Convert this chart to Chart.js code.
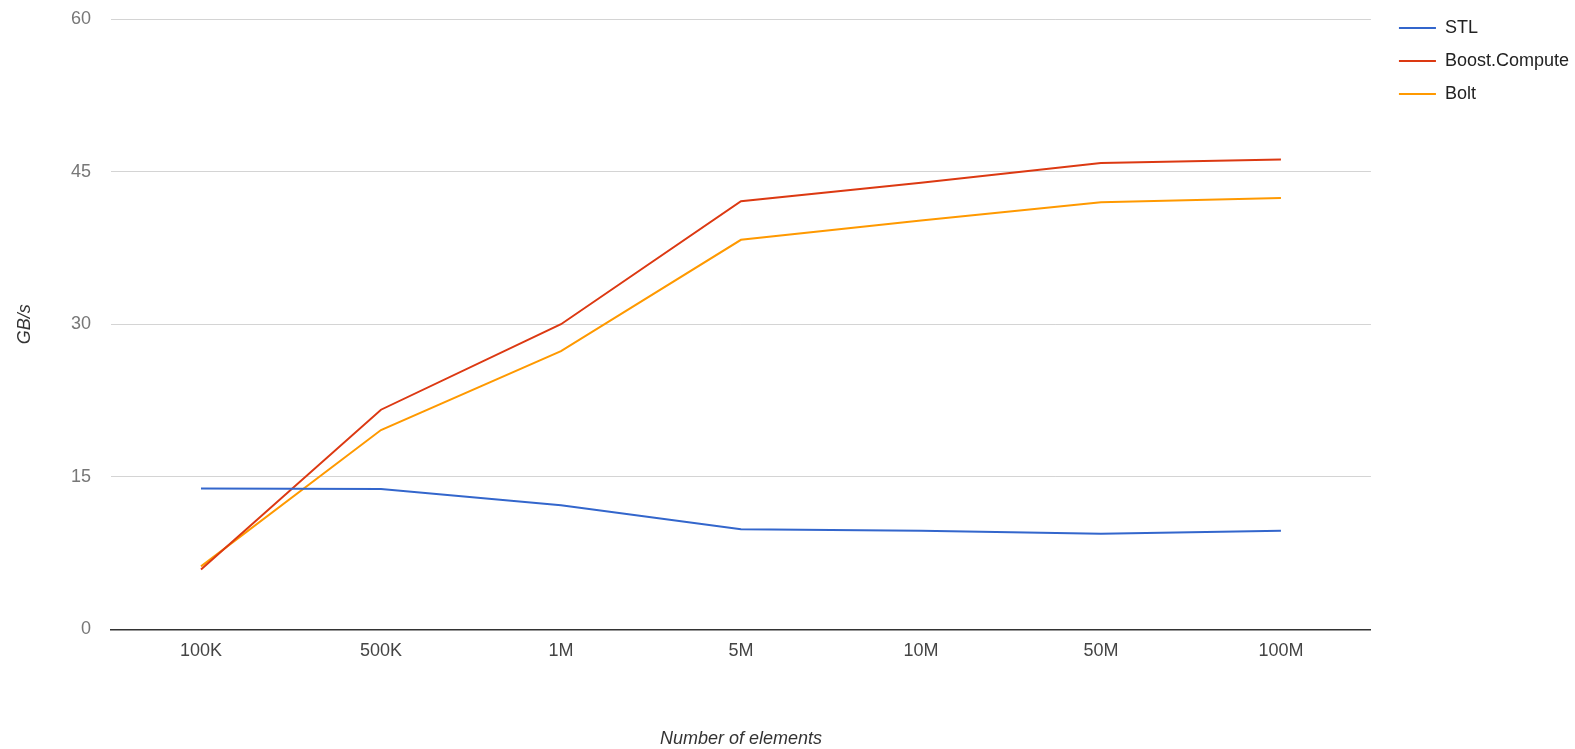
<!DOCTYPE html>
<html>
<head>
<meta charset="utf-8">
<script src="https://cdn.jsdelivr.net/npm/chart.js@4/dist/chart.umd.min.js"></script>
<style>
  html, body { margin: 0; padding: 0; background: #fff; }
  #wrap { width: 1575px; height: 749px; position: relative; }
</style>
</head>
<body>
<div id="wrap"><canvas id="perfChart"></canvas></div>
<script>
// données (GB/s)
const categories = ['100K', '500K', '1M', '5M', '10M', '50M', '100M'];
const stlValues = [13.85, 13.8, 12.2, 9.85, 9.7, 9.4, 9.7];
const boostValues = [5.9, 21.6, 30.0, 42.1, 43.9, 45.85, 46.2];
const boltValues = [6.2, 19.6, 27.35, 38.3, 40.2, 42.0, 42.4];
const yTicks = [0, 15, 30, 45, 60];

const FONT = '"Liberation Sans", Arial, sans-serif';
Chart.defaults.font.family = FONT;
Chart.defaults.font.size = 18;

function mkSerie(label, data, color) {
  return {
    label: label,
    data: data,
    borderColor: color,
    backgroundColor: color,
    borderWidth: 2,
    pointRadius: 0,
    tension: 0,
    fill: false
  };
}

document.addEventListener('DOMContentLoaded', function () {
  const ctx = document.getElementById('perfChart');
  new Chart(ctx, {
    type: 'line',
    data: {
      labels: categories,
      datasets: [
        mkSerie('STL', stlValues, '#3366cc'),
        mkSerie('Boost.Compute', boostValues, '#dc3912'),
        mkSerie('Bolt', boltValues, '#ff9900')
      ]
    },
    options: {
      responsive: true,
      maintainAspectRatio: false,
      animation: false,
      layout: { padding: { top: 4, right: -4, bottom: -1, left: 14 } },
      plugins: {
        legend: {
          position: 'right',
          align: 'start',
          labels: {
            boxWidth: 37,
            boxHeight: 0,
            padding: 15,
            color: '#222',
            font: { size: 18 }
          }
        },
        tooltip: { enabled: false }
      },
      scales: {
        x: {
          offset: true,
          grid: { display: false, drawTicks: false },
          border: { display: true, color: '#333', width: 1.5 },
          ticks: { color: '#444', padding: 11, font: { size: 18 } },
          title: {
            display: true,
            text: 'Number of elements',
            color: '#333',
            padding: 0,
            font: { size: 18, style: 'italic' }
          },
          afterFit: function (s) {
            s.height = 120.5;
            s.paddingLeft = 0;
            s.paddingRight = 0;
          }
        },
        y: {
          min: 0,
          max: 60,
          afterBuildTicks: function (axis) {
            axis.ticks = yTicks.map(v => ({ value: v }));
          },
          grid: {
            drawTicks: false,
            color: c => (c.tick && c.tick.value === 0) ? 'rgba(0,0,0,0)' : '#d4d4d4',
            lineWidth: 1
          },
          border: { display: false },
          ticks: { color: '#777', padding: 20, font: { size: 18 } },
          title: {
            display: true,
            text: 'GB/s',
            color: '#333',
            padding: 0,
            font: { size: 18, style: 'italic' }
          },
          afterFit: function (s) {
            s.width = 97;
            s.paddingTop = 19;
            s.paddingBottom = 0;
          }
        },
        // petit espace vide entre la zone du graphique et la légende
        gap: {
          type: 'linear',
          position: 'right',
          min: 0,
          max: 60,
          grid: { display: false },
          border: { display: false },
          ticks: { display: false },
          afterFit: function (s) {
            s.width = 13;
            s.paddingTop = 0;
            s.paddingBottom = 0;
          }
        }
      }
    }
  });
});
</script>
</body>
</html>
